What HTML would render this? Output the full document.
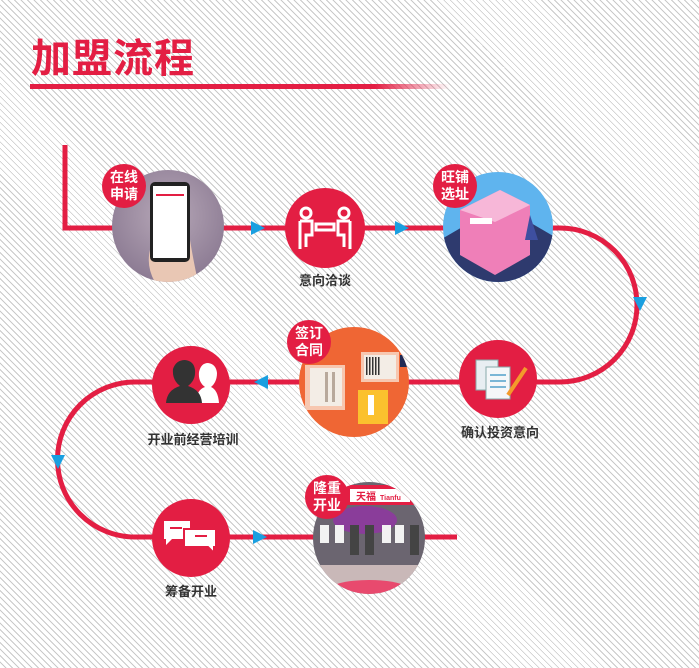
<!DOCTYPE html>
<html><head><meta charset="utf-8"><style>
html,body{margin:0;padding:0;}
body{width:699px;height:668px;overflow:hidden;background:#fff;
background-image:repeating-linear-gradient(45deg,#fff 0px,#fff 3.6px,#c9c9c9 3.6px,#c9c9c9 4.6px);}
svg{position:absolute;left:0;top:0;}
text{font-family:"Liberation Sans","Noto Sans CJK SC",sans-serif;font-weight:bold;}
</style></head><body>
<svg width="699" height="668" viewBox="0 0 699 668">
<defs>
<linearGradient id="ul" x1="0" x2="1" y1="0" y2="0">
<stop offset="0" stop-color="#e31e43"/><stop offset="0.82" stop-color="#e31e43"/><stop offset="1" stop-color="#e31e43" stop-opacity="0"/></linearGradient>
<radialGradient id="ph" cx="0.5" cy="0.4" r="0.6"><stop offset="0" stop-color="#b7a8b8"/><stop offset="1" stop-color="#8c7b93"/></radialGradient>
<clipPath id="c1"><circle cx="168" cy="226" r="56"/></clipPath>
<clipPath id="c3"><circle cx="498" cy="227" r="55"/></clipPath>
<clipPath id="c5"><circle cx="354" cy="382" r="55"/></clipPath>
<clipPath id="c8"><circle cx="369" cy="538" r="56"/></clipPath>
</defs>
<text x="31" y="72" font-size="40" fill="#e31e43" letter-spacing="1">加盟流程</text>
<rect x="30" y="84" width="420" height="5" fill="url(#ul)"/>

<g fill="none" stroke="#e31e43" stroke-width="5">
<path d="M65 145 V228 H560 A77 77 0 0 1 560 382 H135 A77.5 77.5 0 0 0 135 537 H457"/>
</g>
<g fill="#1a9fe0">
<polygon points="251,221 265,228 251,235"/>
<polygon points="395,221 409,228 395,235"/>
<polygon points="633,297 647,297 640,311"/>
<polygon points="268,375 254,382 268,389"/>
<polygon points="51,455 65,455 58,469"/>
<polygon points="253,530 267,537 253,544"/>
</g>

<!-- 1 phone -->
<circle cx="168" cy="226" r="56" fill="url(#ph)"/>
<g clip-path="url(#c1)">
<path d="M150 250 Q145 270 160 290 L200 290 Q195 270 190 240 Z" fill="#e9c7b4"/>
<rect x="150" y="182" width="40" height="80" rx="5" fill="#222"/>
<rect x="153" y="186" width="34" height="72" fill="#fff"/>
<rect x="156" y="194" width="28" height="2" fill="#e31e43"/>
</g>
<circle cx="124" cy="186" r="22" fill="#e31e43"/>
<text x="124" y="182" font-size="14" fill="#fff" text-anchor="middle">在线</text>
<text x="124" y="199" font-size="14" fill="#fff" text-anchor="middle">申请</text>

<!-- 2 -->
<circle cx="325" cy="228" r="40" fill="#e31e43"/>
<g fill="none" stroke="#fff" stroke-width="3">
<circle cx="306" cy="213" r="5"/><circle cx="344" cy="213" r="5"/>
<path d="M300 221 h12 v14 h-6 v12 M300 221 v28"/>
<path d="M350 221 h-12 v14 h6 v12 M350 221 v28"/>
<rect x="316" y="224" width="18" height="6"/>
</g>
<text x="325" y="285" font-size="13" fill="#333" text-anchor="middle">意向洽谈</text>

<!-- 3 shop -->
<circle cx="498" cy="227" r="55" fill="#5fb4ee"/>
<g clip-path="url(#c3)">
<polygon points="440,240 500,205 560,240 560,290 440,290" fill="#2e3a6e"/>
<polygon points="460,210 500,190 530,205 530,255 495,275 460,255" fill="#ef7fb8"/>
<polygon points="460,210 500,190 530,205 495,222" fill="#f7b7d8"/>
<rect x="470" y="218" width="22" height="6" fill="#fff"/>
<polygon points="525,240 530,215 538,240" fill="#3e4fa0"/>
</g>
<circle cx="455" cy="186" r="22" fill="#e31e43"/>
<text x="455" y="182" font-size="14" fill="#fff" text-anchor="middle">旺铺</text>
<text x="455" y="199" font-size="14" fill="#fff" text-anchor="middle">选址</text>

<!-- 4 -->
<circle cx="498" cy="379" r="39" fill="#e31e43"/>
<rect x="476" y="360" width="22" height="30" fill="#e8eef2" stroke="#8aa" stroke-width="1"/>
<rect x="486" y="367" width="24" height="32" fill="#f5f7f9" stroke="#8aa" stroke-width="1"/>
<g stroke="#7ab6d6" stroke-width="2"><line x1="490" y1="375" x2="506" y2="375"/><line x1="490" y1="381" x2="506" y2="381"/><line x1="490" y1="387" x2="506" y2="387"/></g>
<line x1="508" y1="395" x2="526" y2="368" stroke="#f39a2b" stroke-width="4"/>
<text x="500" y="437" font-size="13" fill="#333" text-anchor="middle">确认投资意向</text>

<!-- 5 contract -->
<circle cx="354" cy="382" r="55" fill="#ef6634"/>
<g clip-path="url(#c5)">
<rect x="305" y="365" width="40" height="45" fill="#f7c7b0"/>
<rect x="310" y="368" width="32" height="38" fill="#f3ede6"/>
<rect x="325" y="372" width="3" height="30" fill="#b8a99c"/><rect x="332" y="372" width="3" height="30" fill="#b8a99c"/>
<rect x="361" y="352" width="38" height="30" fill="#f7c7b0"/>
<rect x="364" y="355" width="32" height="24" fill="#f3ede6"/>
<g fill="#333"><rect x="366" y="357" width="1.5" height="18"/><rect x="369" y="357" width="1.5" height="18"/><rect x="372" y="357" width="1.5" height="18"/><rect x="375" y="357" width="1.5" height="18"/><rect x="378" y="357" width="1.5" height="18"/></g>
<rect x="358" y="390" width="30" height="34" fill="#fbc12e"/>
<rect x="368" y="395" width="6" height="20" fill="#fff"/>
<rect x="400" y="355" width="10" height="12" fill="#1f2a55"/>
</g>
<circle cx="309" cy="342" r="22" fill="#e31e43"/>
<text x="309" y="338" font-size="14" fill="#fff" text-anchor="middle">签订</text>
<text x="309" y="355" font-size="14" fill="#fff" text-anchor="middle">合同</text>

<!-- 6 -->
<circle cx="191" cy="385" r="39" fill="#e31e43"/>
<path d="M196 403 Q196 390 205 387 Q198 382 199 372 Q201 363 208 363 Q216 364 217 373 Q217 382 211 387 Q218 390 219 403 Z" fill="#fff"/>
<path d="M166 403 Q167 390 180 386 Q172 380 173 369 Q176 360 185 360 Q194 361 195 370 Q196 380 188 386 Q201 390 202 403 Z" fill="#333"/>
<text x="193" y="444" font-size="13" fill="#333" text-anchor="middle">开业前经营培训</text>

<!-- 7 -->
<circle cx="191" cy="538" r="39" fill="#e31e43"/>
<path d="M164 521 h26 v18 h-18 l-6 6 v-6 h-2 z" fill="#fff"/>
<path d="M184 529 h32 v18 h-2 v6 l-6 -6 h-24 z" fill="#fff" stroke="#e31e43" stroke-width="2"/>
<rect x="170" y="527" width="12" height="2" fill="#e31e43"/>
<rect x="195" y="535" width="12" height="2" fill="#e31e43"/>
<text x="191" y="596" font-size="13" fill="#333" text-anchor="middle">筹备开业</text>

<!-- 8 opening -->
<circle cx="369" cy="538" r="56" fill="#6b6570"/>
<g clip-path="url(#c8)">
<rect x="310" y="485" width="120" height="20" fill="#e31e43"/>
<rect x="350" y="489" width="60" height="13" fill="#fff"/>
<text x="356" y="500" font-size="10" fill="#e31e43">天福</text>
<text x="380" y="500" font-size="7" fill="#e31e43">Tianfu</text>
<ellipse cx="365" cy="520" rx="32" ry="14" fill="#8a3d9a"/>
<g fill="#f2f2f2"><rect x="320" y="525" width="9" height="18"/><rect x="335" y="525" width="9" height="18"/><rect x="382" y="525" width="9" height="18"/><rect x="395" y="525" width="9" height="18"/></g>
<g fill="#444"><rect x="350" y="525" width="9" height="30"/><rect x="365" y="525" width="9" height="30"/><rect x="410" y="525" width="9" height="30"/></g>
<rect x="310" y="565" width="120" height="35" fill="#c9b8b8"/>
<ellipse cx="369" cy="590" rx="40" ry="10" fill="#e84a6e"/>
</g>
<circle cx="327" cy="497" r="22" fill="#e31e43"/>
<text x="327" y="493" font-size="14" fill="#fff" text-anchor="middle">隆重</text>
<text x="327" y="510" font-size="14" fill="#fff" text-anchor="middle">开业</text>
</svg>
</body></html>
